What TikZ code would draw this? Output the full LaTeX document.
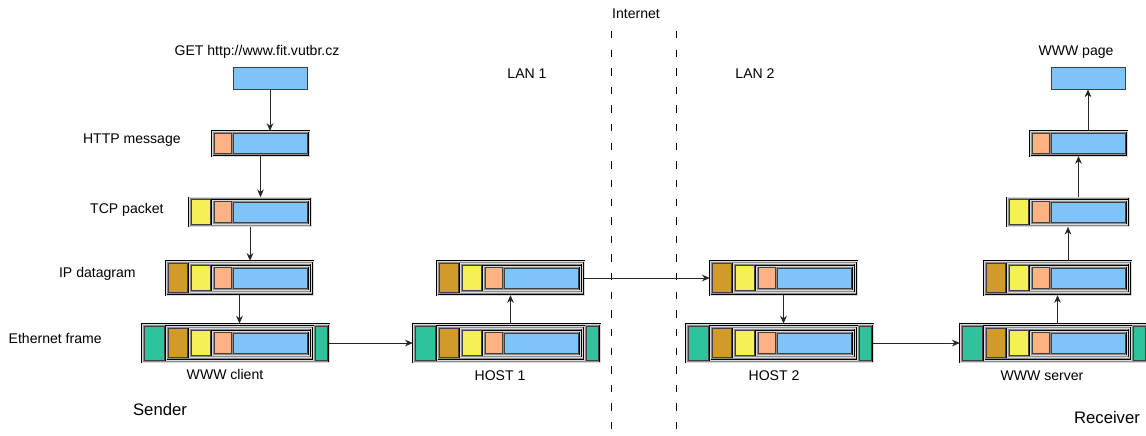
\documentclass[tikz,border=0pt]{standalone}
\usepackage{fontspec}
\setmainfont{Liberation Sans}
\usetikzlibrary{arrows.meta}

\definecolor{datac}{RGB}{126,196,248}
\definecolor{httpc}{RGB}{255,179,133}
\definecolor{tcpc}{RGB}{245,240,86}
\definecolor{ipc}{RGB}{208,155,44}
\definecolor{ethc}{RGB}{46,195,154}
\definecolor{framegray}{RGB}{140,140,140}

\tikzset{
  layerbox/.style={draw=black, double=white!70!gray, double distance=0.2pt, line width=0.3pt, fill=framegray, inner sep=0pt},
  fieldbox/.style={draw=black!75, line width=0.5pt},
  databox/.style={fieldbox, fill=datac, inner sep=0pt, minimum width=1.48cm, minimum height=0.44cm},
  arr/.style={draw=black!85, line width=0.5pt, -{Stealth[length=4.4pt,width=3.8pt]}},
  lbl/.style={font=\fontsize{8pt}{9.6pt}\selectfont, inner sep=0pt},
  side/.style={font=\fontsize{9.5pt}{11pt}\selectfont, inner sep=0pt},
  net/.style={draw=black, line width=0.5pt, dash pattern=on 4.2pt off 6.4pt}
}

% one packet: name, left of data field, centre y, number of headers
\newcommand{\packet}[4]{%
  \begin{scope}[shift={(#2,#3)}]
    \foreach \k/\fl/\fr/\fh/\fc/\fw in {4/-91/96/19.2/ethc/20, 3/-67/80/16.9/ipc/19, 2/-44/78/14.6/tcpc/19, 1/-21/76/12.3/httpc/17}{
      \ifnum\k>#4\relax\else
        \pgfmathsetmacro\bw{(\fr-\fl)*0.02}
        \pgfmathsetmacro\bh{2*\fh*0.02}
        \pgfmathsetmacro\bx{(\fr+\fl)/2}
        \ifnum\k=#4\relax
          \node[layerbox, minimum width=\bw cm, minimum height=\bh cm] (#1) at (\bx,0) {};
        \else
          \node[layerbox, minimum width=\bw cm, minimum height=\bh cm] at (\bx,0) {};
        \fi
        \draw[fieldbox, fill=\fc] (\fl+2,-\fh+2.2) rectangle ++(\fw,2*\fh-4.4);
      \fi
    }
    \ifnum#4>3\relax
      \draw[fieldbox, fill=ethc] (82,-17) rectangle (94,17);
    \fi
    \ifnum#4=0\relax
      \node[databox] (#1) at (37,0) {};
    \else
      \draw[fieldbox, fill=datac] (0,-10) rectangle (74,10);
    \fi
  \end{scope}
}

\begin{document}
\begin{tikzpicture}[x=0.02cm, y=-0.02cm]
  \useasboundingbox (0,0) rectangle (1146,436);

  % Internet border
  \coordinate (n1top) at (611,31);
  \coordinate (n1bot) at (611,436);
  \coordinate (n2top) at (676,31);
  \coordinate (n2bot) at (676,436);
  \draw[net] (n1top) -- (n1bot);
  \draw[net] (n2top) -- (n2bot);

  % Sender
  \packet{cdata}{233}{78}{0}
  \packet{chttp}{233}{143.5}{1}
  \packet{ctcp}{233}{212}{2}
  \packet{cip}{233}{278}{3}
  \packet{ceth}{233}{343}{4}

  % Hosts
  \packet{h1ip}{504}{278}{3}
  \packet{h1eth}{504}{343}{4}
  \packet{h2ip}{777}{278}{3}
  \packet{h2eth}{777}{343}{4}

  % Receiver
  \packet{seth}{1051}{343}{4}
  \packet{sip}{1051}{278}{3}
  \packet{stcp}{1051}{212}{2}
  \packet{shttp}{1051}{143.5}{1}
  \packet{sdata}{1051}{78}{0}

  % down the sender
  \draw[arr] (cdata.south) -- (cdata.south |- chttp.north);
  \draw[arr] (chttp.south) -- (chttp.south |- ctcp.north);
  \draw[arr] (ctcp.south) -- (ctcp.south |- cip.north);
  \draw[arr] (cip.south) -- (cip.south |- ceth.north);

  % across
  \draw[arr] (ceth.east) -- (h1eth.west);
  \draw[arr] (h1ip.south |- h1eth.north) -- (h1ip.south);
  \draw[arr] (h1ip.east) -- (h2ip.west);
  \draw[arr] (h2ip.south) -- (h2ip.south |- h2eth.north);
  \draw[arr] (h2eth.east) -- (seth.west);

  % up the receiver
  \draw[arr] (sip.south |- seth.north) -- (sip.south);
  \draw[arr] (stcp.south |- sip.north) -- (stcp.south);
  \draw[arr] (shttp.south |- stcp.north) -- (shttp.south);
  \draw[arr] (sdata.south |- shttp.north) -- (sdata.south);

  % Labels
  \node[lbl, anchor=base] (tinet) at (636,18) {Internet};
  \node[lbl, anchor=base] (tget) at (257,55) {GET http://www.fit.vutbr.cz};
  \node[lbl, anchor=base] (tpage) at (1076,55) {WWW page};
  \node[lbl, anchor=base] (tlan1) at (527,78) {LAN 1};
  \node[lbl, anchor=base] (tlan2) at (755,78) {LAN 2};
  \node[lbl, anchor=base east] (thttp) at (181,143) {HTTP message};
  \node[lbl, anchor=base east] (ttcp) at (164,213) {TCP packet};
  \node[lbl, anchor=base east] (tip) at (136,277.5) {IP datagram};
  \node[lbl, anchor=base east] (teth) at (102,343) {Ethernet frame};
  \node[lbl, anchor=base] (tclient) at (225,379) {WWW client};
  \node[lbl, anchor=base] (th1) at (500,380) {HOST 1};
  \node[lbl, anchor=base] (th2) at (774,380) {HOST 2};
  \node[lbl, anchor=base] (tserver) at (1042,380) {WWW server};
  \node[side, anchor=base] (tsender) at (160,415) {Sender};
  \node[side, anchor=base] (trecv) at (1107,423) {Receiver};
\end{tikzpicture}
\end{document}
